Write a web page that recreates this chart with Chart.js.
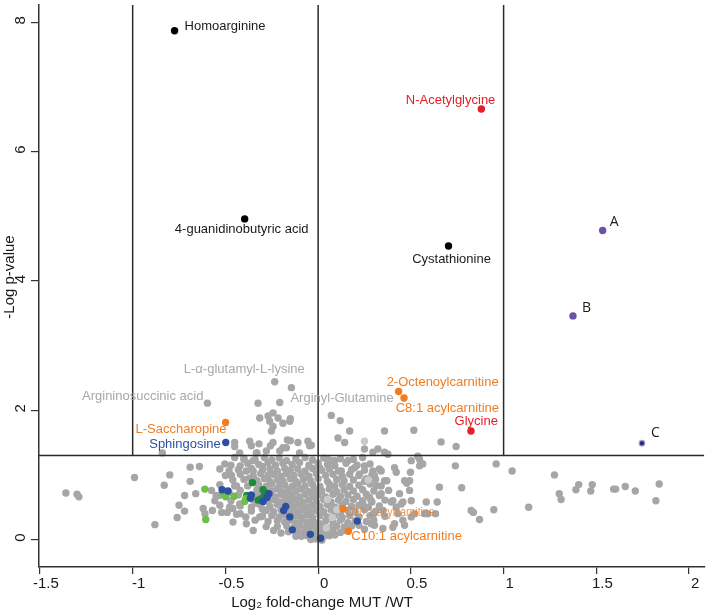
<!DOCTYPE html>
<html lang="en">
<head>
    <meta charset="UTF-8">
    <title>Volcano plot MUT / WT</title>
    <script src="https://cdn.jsdelivr.net/npm/chart.js"></script>
    <style>
        body { margin: 0; background: #fff; }
        #wrap { width: 709px; height: 611px; }
    </style>
</head>
<body>
<div id="wrap"><canvas id="volcano" width="709" height="611"></canvas></div>
<script>
    // axis ticks
    const xTicks = [-1.5, -1, -0.5, 0, 0.5, 1, 1.5, 2];
    const yTicks = [0, 2, 4, 6, 8];

    // cut-offs: |log2 FC| = 1 and -log p = 1.3
    const fcCuts = [-1, 1];
    const pCut = 1.3;

    // highlighted metabolites [log2 FC, -log p]
    const blackPts = [[-0.774, 7.87], [-0.396, 4.96], [0.703, 4.54]];
    const redPts = [[0.88, 6.66], [0.824, 1.68]];
    const orangePts = [[-0.499, 1.81], [0.434, 2.29], [0.463, 2.19], [0.134, 0.475], [0.163, 0.127]];
    const purplePts = [[1.534, 4.78], [1.374, 3.46]];
    const navyPts = [[1.746, 1.49]];
    const bluePts = [[-0.498, 1.50], [-0.518, 0.77], [-0.486, 0.75], [-0.36, 0.69], [-0.365, 0.64], [-0.265, 0.71],
        [-0.276, 0.65], [-0.297, 0.59], [-0.175, 0.51], [-0.186, 0.45], [-0.153, 0.35], [-0.139, 0.15],
        [-0.042, 0.08], [0.013, 0.02], [0.211, 0.285]];
    const lightGreenPts = [[-0.611, 0.78], [-0.606, 0.31], [-0.513, 0.71], [-0.498, 0.66], [-0.453, 0.67],
        [-0.396, 0.59], [-0.39, 0.63]];
    const darkGreenPts = [[-0.354, 0.88], [-0.385, 0.68], [-0.297, 0.77], [-0.324, 0.61], [-0.306, 0.63],
        [-0.283, 0.72], [-0.29, 0.68]];
    const lightGreyPts = [[0.101, 0.46], [0.076, 0.34], [0.044, 0.18], [0.25, 1.52], [0.27, 0.92], [0.05, 0.62]];

    // all other metabolites
    const greyPts = [
        // sparse, left
        [-1.36, 0.72], [-1.30, 0.70], [-1.29, 0.66], [-0.99, 0.96], [-0.88, 0.23], [-0.84, 1.34], [-0.80, 1.00],
        [-0.83, 0.84], [-0.69, 1.12], [-0.64, 1.13], [-0.69, 0.90], [-0.72, 0.68], [-0.75, 0.53], [-0.72, 0.44],
        [-0.76, 0.34], [-0.66, 0.71], [-0.62, 0.48], [-0.61, 0.40], [-0.57, 0.45], [-0.53, 0.53], [-0.49, 0.42],
        [-0.53, 0.68], [-0.46, 0.48], [-0.42, 0.40], [-0.35, 0.14], [-0.39, 0.35], [-0.53, 1.09], [-0.48, 1.06],
        [-0.42, 1.14], [-0.40, 1.24], [-0.35, 1.06], [-0.44, 0.83], [-0.48, 0.73], [-0.38, 0.83], [-0.33, 1.34],
        [-0.575, 0.76], [-0.557, 0.60], [-0.52, 0.42], [-0.477, 0.50], [-0.44, 0.39], [-0.423, 0.55],
        [-0.459, 0.27], [-0.387, 0.245], [-0.315, 0.35], [-0.503, 1.17], [-0.45, 1.27], [-0.467, 0.99],
        [-0.387, 1.06], [-0.351, 1.22],
        // above p cut-off
        [-0.234, 2.44], [-0.144, 2.35], [-0.597, 2.11], [-0.324, 2.11], [-0.207, 2.12], [-0.243, 1.96],
        [-0.27, 1.91], [-0.315, 1.88], [-0.216, 1.88], [-0.261, 1.83], [-0.153, 1.83], [-0.19, 1.80],
        [-0.243, 1.75], [-0.252, 1.68], [-0.15, 1.87], [-0.369, 1.52], [-0.36, 1.45], [-0.45, 1.50],
        [-0.319, 1.48], [-0.423, 1.34], [-0.243, 1.50], [-0.171, 1.42], [-0.109, 1.50], [-0.055, 1.52],
        [-0.046, 1.45], [-0.166, 1.54], [-0.207, 1.37], [-0.279, 1.37], [-0.333, 1.34], [-0.1, 1.34],
        [-0.45, 1.44], [-0.257, 1.45], [-0.19, 1.42], [-0.15, 1.53], [-0.037, 1.46],
        [0.071, 1.92], [0.119, 1.84], [0.17, 1.68], [0.107, 1.57], [0.143, 1.50], [0.358, 1.68], [0.516, 1.69],
        [0.663, 1.51], [0.744, 1.44], [0.25, 1.40], [0.295, 1.35], [0.322, 1.40], [0.358, 1.35], [0.376, 1.32],
        [0.537, 1.29],
        // sparse, right
        [0.547, 1.14], [0.564, 1.17], [0.498, 1.04], [0.421, 1.04], [0.34, 1.06], [0.304, 0.99], [0.26, 0.94],
        [0.223, 1.01], [0.493, 0.91], [0.478, 0.87], [0.493, 0.76], [0.74, 1.14], [0.96, 1.17], [1.046, 1.06],
        [0.654, 0.81], [0.774, 0.80], [0.583, 0.58], [0.642, 0.58], [0.825, 0.45], [0.837, 0.42], [0.87, 0.31],
        [0.947, 0.46], [1.135, 0.50], [1.274, 1.00], [1.30, 0.71], [1.31, 0.62], [1.39, 0.77], [1.405, 0.85],
        [1.47, 0.75], [1.478, 0.85], [1.593, 0.78], [1.604, 0.78], [1.656, 0.82], [1.71, 0.75], [1.821, 0.60],
        [1.839, 0.86], [0.439, 0.71], [0.403, 0.60], [0.457, 0.58], [0.502, 0.60], [0.52, 0.40], [0.457, 0.30],
        [0.403, 0.19], [0.349, 0.17], [0.304, 0.22], [0.574, 0.40], [0.633, 0.40], [0.286, 0.60], [0.421, 0.50],
        [0.412, 1.11], [0.502, 1.22], [0.547, 1.24], [0.466, 0.91], [0.358, 0.91], [0.313, 0.83], [0.34, 0.71],
        [0.394, 0.58], [0.448, 0.55], [0.43, 0.40], [0.502, 0.35], [0.591, 0.40], [0.412, 0.245], [0.466, 0.22],
        [0.286, 0.245], [0.241, 0.55], [0.277, 0.65], [0.295, 1.06], [0.25, 1.14], [0.197, 1.11], [0.16, 1.22],
        [0.125, 1.06], [0.089, 1.22], [0.053, 1.24], [0.008, 1.11],
        // dense core
        [-0.40, 1.26], [-0.34, 1.24], [-0.29, 1.27], [-0.25, 1.23], [-0.21, 1.26], [-0.17, 1.22], [-0.12, 1.25],
        [-0.07, 1.27], [-0.03, 1.23], [0.03, 1.26], [0.07, 1.22], [0.12, 1.25], [0.19, 1.24], [0.24, 1.27],
        [-0.47, 1.15], [-0.38, 1.18], [-0.32, 1.16], [-0.27, 1.19], [-0.23, 1.15], [-0.19, 1.18], [-0.14, 1.16],
        [-0.10, 1.19], [-0.05, 1.15], [0.00, 1.18], [0.05, 1.16], [0.09, 1.14], [0.15, 1.18], [0.21, 1.15],
        [0.28, 1.17],
        [-0.43, 1.08], [-0.36, 1.10], [-0.30, 1.07], [-0.26, 1.09], [-0.22, 1.06], [-0.18, 1.10], [-0.15, 1.07],
        [-0.11, 1.09], [-0.07, 1.06], [-0.03, 1.10], [0.02, 1.07], [0.06, 1.09], [0.11, 1.06], [0.18, 1.08],
        [0.25, 1.07], [0.33, 1.09],
        [-0.50, 0.99], [-0.42, 1.01], [-0.35, 0.98], [-0.31, 1.02], [-0.27, 0.99], [-0.24, 1.01], [-0.20, 0.98],
        [-0.17, 1.02], [-0.13, 0.99], [-0.09, 1.01], [-0.05, 0.98], [-0.01, 1.02], [0.04, 0.99], [0.08, 1.01],
        [0.13, 0.98], [0.17, 1.01], [0.22, 0.99], [0.29, 1.00],
        [-0.46, 0.92], [-0.40, 0.93], [-0.33, 0.91], [-0.29, 0.94], [-0.26, 0.90], [-0.22, 0.93], [-0.19, 0.91],
        [-0.15, 0.94], [-0.12, 0.90], [-0.08, 0.93], [-0.04, 0.91], [0.00, 0.94], [0.05, 0.90], [0.10, 0.93],
        [0.14, 0.91], [0.19, 0.92], [0.25, 0.90], [0.31, 0.93], [0.37, 0.91],
        [-0.53, 0.85], [-0.45, 0.83], [-0.32, 0.85], [-0.28, 0.82], [-0.25, 0.86], [-0.21, 0.83], [-0.18, 0.85],
        [-0.14, 0.82], [-0.11, 0.86], [-0.07, 0.83], [-0.03, 0.85], [0.01, 0.82], [0.06, 0.86], [0.09, 0.83],
        [0.13, 0.85], [0.17, 0.82], [0.22, 0.84], [0.28, 0.86], [0.34, 0.83],
        [-0.42, 0.76], [-0.33, 0.77], [-0.25, 0.75], [-0.22, 0.78], [-0.19, 0.74], [-0.16, 0.77], [-0.12, 0.75],
        [-0.09, 0.78], [-0.05, 0.74], [-0.02, 0.77], [0.02, 0.75], [0.06, 0.78], [0.10, 0.74], [0.14, 0.77],
        [0.19, 0.75], [0.24, 0.77], [0.30, 0.75], [0.38, 0.76],
        [-0.55, 0.68], [-0.43, 0.69], [-0.34, 0.67], [-0.26, 0.69], [-0.23, 0.66], [-0.20, 0.70], [-0.17, 0.67],
        [-0.14, 0.69], [-0.10, 0.66], [-0.07, 0.70], [-0.03, 0.67], [0.00, 0.69], [0.04, 0.66], [0.08, 0.70],
        [0.12, 0.67], [0.16, 0.69], [0.21, 0.67], [0.26, 0.70], [0.33, 0.68],
        [-0.47, 0.60], [-0.35, 0.61], [-0.27, 0.59], [-0.24, 0.62], [-0.21, 0.58], [-0.18, 0.61], [-0.15, 0.59],
        [-0.12, 0.62], [-0.08, 0.58], [-0.05, 0.61], [-0.01, 0.59], [0.03, 0.62], [0.07, 0.58], [0.11, 0.61],
        [0.15, 0.59], [0.19, 0.62], [0.24, 0.60], [0.29, 0.58], [0.36, 0.61],
        [-0.42, 0.52], [-0.31, 0.53], [-0.26, 0.51], [-0.22, 0.54], [-0.19, 0.50], [-0.16, 0.53], [-0.13, 0.51],
        [-0.10, 0.54], [-0.06, 0.50], [-0.03, 0.53], [0.01, 0.51], [0.05, 0.54], [0.09, 0.50], [0.13, 0.53],
        [0.18, 0.51], [0.22, 0.53], [0.27, 0.50], [0.33, 0.52],
        [-0.36, 0.44], [-0.28, 0.45], [-0.24, 0.43], [-0.20, 0.46], [-0.17, 0.42], [-0.14, 0.45], [-0.11, 0.43],
        [-0.08, 0.46], [-0.04, 0.42], [-0.01, 0.45], [0.03, 0.43], [0.07, 0.46], [0.12, 0.42], [0.16, 0.45],
        [0.20, 0.43], [0.25, 0.46], [0.31, 0.44],
        [-0.30, 0.36], [-0.25, 0.37], [-0.21, 0.35], [-0.18, 0.38], [-0.15, 0.34], [-0.12, 0.37], [-0.09, 0.35],
        [-0.06, 0.38], [-0.03, 0.34], [0.01, 0.37], [0.05, 0.35], [0.09, 0.38], [0.13, 0.34], [0.17, 0.37],
        [0.22, 0.35], [0.28, 0.37],
        [-0.27, 0.28], [-0.22, 0.29], [-0.18, 0.27], [-0.15, 0.30], [-0.12, 0.26], [-0.09, 0.29], [-0.06, 0.27],
        [-0.03, 0.30], [0.00, 0.26], [0.04, 0.29], [0.08, 0.27], [0.12, 0.30], [0.16, 0.26], [0.20, 0.29],
        [0.26, 0.28],
        [-0.22, 0.20], [-0.17, 0.21], [-0.13, 0.19], [-0.10, 0.22], [-0.07, 0.18], [-0.04, 0.21], [-0.01, 0.19],
        [0.02, 0.22], [0.06, 0.18], [0.10, 0.21], [0.14, 0.19], [0.18, 0.21],
        [-0.16, 0.12], [-0.11, 0.13], [-0.08, 0.11], [-0.05, 0.14], [-0.02, 0.10], [0.01, 0.13], [0.04, 0.11],
        [0.08, 0.14], [0.12, 0.11],
        [-0.09, 0.05], [-0.06, 0.06], [-0.03, 0.04], [0.00, 0.07], [0.03, 0.05], [0.06, 0.06],
        [-0.04, 0.00], [-0.01, 0.01], [0.02, -0.01],
        // core fringe
        [-0.33, 0.56], [-0.30, 0.47], [-0.34, 0.30], [-0.28, 0.20], [-0.24, 0.14], [-0.20, 0.10], [-0.12, 0.05],
        [0.09, 0.07], [0.15, 0.14], [0.22, 0.22], [0.25, 0.16], [0.30, 0.30], [0.30, 0.40], [0.35, 0.45],
        [0.36, 0.36], [-0.31, 0.72], [-0.37, 0.95], [-0.30, 1.13], [-0.36, 0.50]
    ];

    // labels and the point each one belongs to
    const labelNames = ['Homoarginine', '4-guanidinobutyric acid', 'Cystathionine', 'N-Acetylglycine',
        'A', 'B', 'C', '2-Octenoylcarnitine', 'C8:1 acylcarnitine', 'Glycine', 'Arginyl-Glutamine',
        'L-\u03b1-glutamyl-L-lysine', 'Argininosuccinic acid', 'L-Saccharopine', 'Sphingosine',
        'C10:1 acylcarnitine', 'C10:1 acylcarnitine'];
    const labelAt = [[-0.774, 7.87], [-0.396, 4.96], [0.703, 4.54], [0.88, 6.66],
        [1.534, 4.78], [1.374, 3.46], [1.746, 1.49], [0.434, 2.29], [0.463, 2.19], [0.824, 1.68], [-0.144, 2.35],
        [-0.234, 2.44], [-0.597, 2.11], [-0.499, 1.81], [-0.498, 1.50],
        [0.134, 0.475], [0.163, 0.127]];

    const GREY = '#a6a6a6', RED = '#e3202a', ORANGE = '#f07d22', BLUE = '#2d4fa2', TXT = '#1a1a1a';
    const SANS = '"Liberation Sans", Arial, sans-serif';

    // label placement: offset from its point in px
    const labelStyle = [
        {dx: 10, dy: -4, align: 'left', color: TXT},
        {dx: -3, dy: 11, align: 'center', color: TXT},
        {dx: 3, dy: 13, align: 'center', color: TXT},
        {dx: 14, dy: -9, align: 'right', color: RED},
        {dx: 7, dy: -9, align: 'left', color: TXT, font: '14px "Open Sans", sans-serif'},
        {dx: 9, dy: -8, align: 'left', color: TXT, font: '14px "Open Sans", sans-serif'},
        {dx: 9, dy: -10, align: 'left', color: TXT, font: '14px "Open Sans", sans-serif'},
        {dx: 100, dy: -9, align: 'right', color: ORANGE},
        {dx: 95, dy: 10, align: 'right', color: ORANGE},
        {dx: 27, dy: -10, align: 'right', color: RED},
        {dx: -1, dy: 11, align: 'left', color: '#a8a8a8'},
        {dx: 30, dy: -12, align: 'right', color: '#a8a8a8'},
        {dx: -4, dy: -7, align: 'right', color: '#a8a8a8'},
        {dx: 1, dy: 7, align: 'right', color: ORANGE},
        {dx: -5, dy: 2, align: 'right', color: BLUE},
        {dx: 3, dy: 4, align: 'left', color: ORANGE, squeeze: 0.8, alpha: 0.8},
        {dx: 3, dy: 5, align: 'left', color: ORANGE}
    ];

    function pts(arr) {
        return arr.map(([x, y]) => ({x: x, y: y}));
    }

    function dots(arr, color, order, extra) {
        return Object.assign({
            data: pts(arr),
            backgroundColor: color,
            borderWidth: 0,
            pointRadius: 3.7,
            pointHoverRadius: 3.7,
            order: order
        }, extra || {});
    }

    // cut-off lines, point labels, rotated y ticks and axis titles
    const overlay = {
        id: 'overlay',
        afterDatasetsDraw(chart) {
            const {ctx, chartArea: a} = chart;
            const xs = chart.scales.x, ys = chart.scales.y;
            ctx.save();
            ctx.strokeStyle = '#2a2a2a';
            ctx.lineWidth = 1.5;
            const yc = ys.getPixelForValue(pCut);
            ctx.beginPath();
            fcCuts.forEach(v => {
                const px = xs.getPixelForValue(v);
                ctx.moveTo(px, a.top);
                ctx.lineTo(px, yc);
            });
            const x0 = xs.getPixelForValue(0);
            ctx.moveTo(x0, a.top);
            ctx.lineTo(x0, a.bottom);
            ctx.moveTo(a.left, yc);
            ctx.lineTo(a.right, yc);
            ctx.stroke();

            ctx.textBaseline = 'middle';
            labelNames.forEach((t, i) => {
                const s = labelStyle[i];
                const px = xs.getPixelForValue(labelAt[i][0]) + s.dx;
                const py = ys.getPixelForValue(labelAt[i][1]) + s.dy;
                ctx.save();
                ctx.font = s.font || ('13px ' + SANS);
                ctx.fillStyle = s.color;
                ctx.textAlign = s.align;
                if (s.alpha) ctx.globalAlpha = s.alpha;
                ctx.translate(px, py);
                if (s.squeeze) ctx.scale(s.squeeze, 1);
                ctx.fillText(t, 0, 0);
                ctx.restore();
            });
            ctx.restore();
        },
        afterDraw(chart) {
            const ctx = chart.ctx;
            const ys = chart.scales.y;
            ctx.save();
            ctx.fillStyle = TXT;
            ctx.font = '15px ' + SANS;
            ctx.textAlign = 'center';
            ctx.textBaseline = 'middle';
            yTicks.forEach(v => {
                ctx.save();
                ctx.translate(21, ys.getPixelForValue(v) - 2);
                ctx.rotate(-Math.PI / 2);
                ctx.fillText(String(v), 0, 0);
                ctx.restore();
            });
            ctx.save();
            ctx.translate(10, 277);
            ctx.rotate(-Math.PI / 2);
            ctx.fillText('-Log p-value', 0, 0);
            ctx.restore();
            ctx.fillText('Log\u2082 fold-change MUT /WT', 322, 603);
            ctx.restore();
        }
    };

    const axisGrid = {display: true, drawOnChartArea: false, drawTicks: true, color: '#333', lineWidth: 1.2};

    new Chart(document.getElementById('volcano'), {
        type: 'scatter',
        data: {
            datasets: [
                dots(greyPts, GREY, 10),
                dots(lightGreyPts, '#c9c9c9', 9),
                dots(lightGreenPts, '#6cc04a', 5),
                dots(darkGreenPts, '#1d8a3c', 5),
                dots(bluePts, BLUE, 4),
                dots(orangePts, ORANGE, 2),
                dots(redPts, RED, 2),
                dots(blackPts, '#000', 2),
                dots(purplePts, '#6a52a8', 2),
                dots(navyPts, '#2a2c7c', 1, {borderWidth: 1.2, borderColor: '#a3a3cc', pointRadius: 2.8})
            ]
        },
        options: {
            responsive: false,
            animation: false,
            devicePixelRatio: 1,
            layout: {padding: {top: 0, right: 4, bottom: 0, left: 0}},
            plugins: {legend: {display: false}, tooltip: {enabled: false}},
            scales: {
                x: {
                    type: 'linear',
                    position: 'bottom',
                    min: -1.505,
                    max: 2.081,
                    afterBuildTicks: s => { s.ticks = xTicks.map(v => ({value: v})); },
                    afterFit: s => { s.height = 44; },
                    grid: Object.assign({tickLength: 7}, axisGrid),
                    border: {display: true, color: '#333', width: 1.5},
                    ticks: {
                        color: TXT,
                        font: {size: 15, family: SANS},
                        padding: 1,
                        labelOffset: 6,
                        maxRotation: 0,
                        autoSkip: false,
                        callback: v => String(v)
                    }
                },
                y: {
                    type: 'linear',
                    min: -0.425,
                    max: 8.271,
                    afterBuildTicks: s => { s.ticks = yTicks.map(v => ({value: v})); },
                    afterFit: s => { s.width = 39; },
                    grid: Object.assign({tickLength: 8}, axisGrid),
                    border: {display: true, color: '#333', width: 1.5},
                    ticks: {display: false}
                }
            }
        },
        plugins: [overlay]
    });
</script>
</body>
</html>
